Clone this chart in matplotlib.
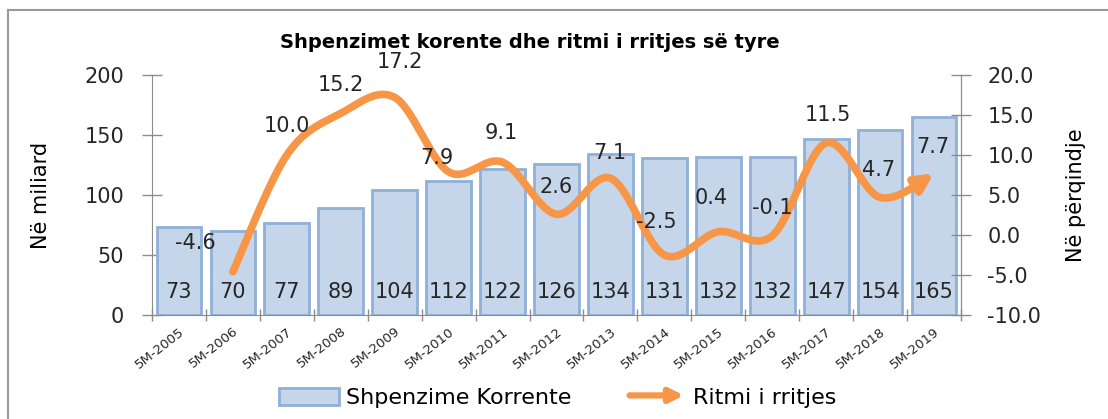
import numpy as np
import matplotlib
matplotlib.use("Agg")
import matplotlib.pyplot as plt
from matplotlib.patches import Patch, FancyArrowPatch
from matplotlib.lines import Line2D
from matplotlib.legend_handler import HandlerPatch

plt.rcParams['font.family'] = ['DejaVu Sans']

categories = ["5M-2005", "5M-2006", "5M-2007", "5M-2008", "5M-2009", "5M-2010",
              "5M-2011", "5M-2012", "5M-2013", "5M-2014", "5M-2015", "5M-2016",
              "5M-2017", "5M-2018", "5M-2019"]
spending = [73, 70, 77, 89, 104, 112, 122, 126, 134, 131, 132, 132, 147, 154, 165]
growth = [None, -4.6, 10.0, 15.2, 17.2, 7.9, 9.1, 2.6, 7.1, -2.5, 0.4, -0.1, 11.5, 4.7, 7.7]
growth_labels = ["", "-4.6", "10.0", "15.2", "17.2", "7.9", "9.1", "2.6", "7.1",
                 "-2.5", "0.4", "-0.1", "11.5", "4.7", "7.7"]
left_ticks = [0, 50, 100, 150, 200]
right_ticks = [-10, -5, 0, 5, 10, 15, 20]

title = "Shpenzimet korente dhe ritmi i rritjes së tyre"
bar_name = "Shpenzime Korrente"
line_name = "Ritmi i rritjes"

# label offsets in pixels (dx, dy up)
label_offsets = [(0, 0), (-38, 29), (0, 29), (0, 28), (5, 35), (-12, 14), (-1, 29),
                 (0, 27), (-1, 25), (-8, 33), (-7, 34), (0, 28), (2, 28), (-2, 27), (-1, 26)]

BAR_FILL = "#c6d6ea"
BAR_EDGE = "#8fb0d8"
ORANGE = "#f79646"
AXIS_GRAY = "#8c8c8c"
TXT = "#262626"
FS = 15

W, H = 1108, 419
fig = plt.figure(figsize=(W / 100, H / 100), dpi=100)

x0, x1, y0, y1 = 152, 961, 75, 315
ax = fig.add_axes([x0 / W, 1 - y1 / H, (x1 - x0) / W, (y1 - y0) / H])
x = np.arange(len(categories))
ax.bar(x, spending, width=0.83, color=BAR_FILL, edgecolor=BAR_EDGE, linewidth=2.0, zorder=2)
ax.set_xlim(-0.5, len(categories) - 0.5)
ax.set_ylim(0, 200)
ax.set_yticks(left_ticks)
ax.set_yticklabels([str(t) for t in left_ticks], fontsize=FS, color=TXT)
ax.tick_params(axis='y', direction='inout', length=14, width=1, color=AXIS_GRAY, pad=13)
ax.set_xticks(np.arange(len(categories) + 1) - 0.5)
ax.set_xticklabels([])
ax.tick_params(axis='x', direction='inout', length=9, width=1, color=AXIS_GRAY)
ax.set_xticks(x, minor=True)
ax.set_xticklabels(categories, minor=True, rotation=38, ha='right', va='top',
                   rotation_mode='anchor', fontsize=9.5, color=TXT)
ax.tick_params(axis='x', which='minor', length=0, pad=7)
ax.spines['top'].set_visible(False)
for s in ['left', 'right', 'bottom']:
    ax.spines[s].set_color(AXIS_GRAY)
ax.set_ylabel("Në miliard", fontsize=FS, color='black')
ax.yaxis.set_label_coords(-0.125, 0.5)

for xi, v in zip(x, spending):
    ax.annotate(str(v), (xi, 0), xytext=(0, 23 * 0.72), textcoords='offset points',
                ha='center', va='center', fontsize=FS, color=TXT, zorder=5)

ax2 = ax.twinx()
ax2.set_ylim(-10, 20)
ax2.set_yticks(right_ticks)
ax2.set_yticklabels([f"{t:.1f}" for t in right_ticks], fontsize=FS, color=TXT)
ax2.tick_params(axis='y', direction='inout', length=14, width=1, color=AXIS_GRAY, pad=12)
for s in ['top', 'left', 'bottom']:
    ax2.spines[s].set_visible(False)
ax2.spines['right'].set_color(AXIS_GRAY)
ax2.set_ylabel("Në përqindje", fontsize=FS, color='black', rotation=90)
ax2.yaxis.set_label_coords(1.13, 0.5)

# smoothed line (Bezier smoothing, like Excel)
idx = [i for i, g in enumerate(growth) if g is not None]
px = np.array(idx, dtype=float)
py = np.array([growth[i] for i in idx], dtype=float)
P = np.column_stack([px, py])
Pp = np.vstack([P[0], P, P[-1]])
curve = []
tt = np.linspace(0, 1, 40)
for k in range(1, len(Pp) - 2):
    p0, p1, p2, p3 = Pp[k - 1], Pp[k], Pp[k + 1], Pp[k + 2]
    c1 = p1 + (p2 - p0) / 6
    c2 = p2 - (p3 - p1) / 6
    seg = ((1 - tt) ** 3)[:, None] * p1 + (3 * (1 - tt) ** 2 * tt)[:, None] * c1 + \
          (3 * (1 - tt) * tt ** 2)[:, None] * c2 + (tt ** 3)[:, None] * p2
    curve.append(seg if k == 1 else seg[1:])
curve = np.vstack(curve)
cut = len(curve) - 14
ax2.plot(curve[:cut, 0], curve[:cut, 1], color=ORANGE, lw=5.5, solid_capstyle='round',
         solid_joinstyle='round', zorder=4)
arr = FancyArrowPatch(tuple(curve[cut - 2]), tuple(curve[-1]), arrowstyle='-|>',
                      mutation_scale=26, color=ORANGE, lw=5.5, zorder=4,
                      shrinkA=0, shrinkB=0)
ax2.add_patch(arr)

for i, g in enumerate(growth):
    if g is None:
        continue
    dx, dy = label_offsets[i]
    ax2.annotate(growth_labels[i], (i, g), xytext=(dx * 0.72, dy * 0.72),
                 textcoords='offset points', ha='center', va='center',
                 fontsize=FS, color=TXT, zorder=6)

fig.text(530 / W, 1 - 42 / H, title, ha='center', va='center', fontsize=14,
         fontweight='bold', color='black')

# legend
class ArrowHandler(HandlerPatch):
    def create_artists(self, legend, orig_handle, xdescent, ydescent, width, height, fontsize, trans):
        a = FancyArrowPatch((0, height / 2), (width, height / 2), arrowstyle='-|>',
                            mutation_scale=20, color=ORANGE, lw=4.5, transform=trans)
        return [a]

bar_h = Patch(facecolor=BAR_FILL, edgecolor=BAR_EDGE, linewidth=2)
arrow_h = Patch(facecolor=ORANGE)
fig.legend([bar_h, arrow_h], [bar_name, line_name], loc='center',
           bbox_to_anchor=(558 / W, 1 - 398 / H), ncol=2, frameon=False,
           fontsize=16, handlelength=2.7, handleheight=0.85, columnspacing=2.5,
           handletextpad=0.3, handler_map={arrow_h: ArrowHandler()})

# outer frame (partially visible)
fig.add_artist(Line2D([8 / W, 1], [1 - 10 / H, 1 - 10 / H], color='#9a9a9a', lw=1.5,
                      transform=fig.transFigure))
fig.add_artist(Line2D([8 / W, 8 / W], [0, 1 - 10 / H], color='#9a9a9a', lw=1.5,
                      transform=fig.transFigure))

fig.savefig("out.png", dpi=100)
